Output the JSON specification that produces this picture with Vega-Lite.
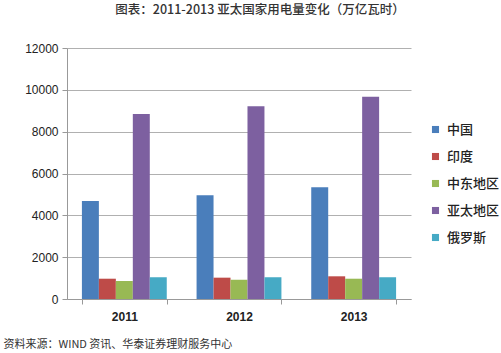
{
  "$schema": "https://vega.github.io/schema/vega-lite/v6.json",
  "autosize": "none",
  "width": 344,
  "height": 251,
  "padding": {"left": 67, "top": 48, "right": 90, "bottom": 54},
  "background": "white",
  "title": {
    "text": "图表：2011-2013 亚太国家用电量变化（万亿瓦时）",
    "font": "Noto Sans CJK SC",
    "fontSize": 12.5,
    "fontWeight": 500,
    "color": "#333333",
    "anchor": "middle",
    "frame": "group",
    "dx": 21,
    "offset": 26
  },
  "data": {
    "values": [
      {"year": "2011", "region": "中国", "value": 4690},
      {"year": "2011", "region": "印度", "value": 970},
      {"year": "2011", "region": "中东地区", "value": 860},
      {"year": "2011", "region": "亚太地区", "value": 8840},
      {"year": "2011", "region": "俄罗斯", "value": 1040},
      {"year": "2012", "region": "中国", "value": 4960},
      {"year": "2012", "region": "印度", "value": 1020},
      {"year": "2012", "region": "中东地区", "value": 920},
      {"year": "2012", "region": "亚太地区", "value": 9220},
      {"year": "2012", "region": "俄罗斯", "value": 1040},
      {"year": "2013", "region": "中国", "value": 5340},
      {"year": "2013", "region": "印度", "value": 1085},
      {"year": "2013", "region": "中东地区", "value": 970},
      {"year": "2013", "region": "亚太地区", "value": 9665},
      {"year": "2013", "region": "俄罗斯", "value": 1040}
    ]
  },
  "mark": {"type": "bar"},
  "encoding": {
    "x": {
      "field": "year",
      "type": "nominal",
      "scale": {"paddingInner": 0.26, "paddingOuter": 0.13},
      "axis": {
        "title": "资料来源：WIND 资讯、华泰证券理财服务中心",
        "titleFont": "Noto Sans CJK SC",
        "titleFontSize": 11,
        "titleFontWeight": "normal",
        "titleColor": "#333333",
        "titleAnchor": "start",
        "titleAlign": "left",
        "titleBaseline": "alphabetic",
        "titleX": -64,
        "titleY": 48,
        "labelAngle": 0,
        "labelFont": "Liberation Sans",
        "labelFontSize": 12,
        "labelFontWeight": "bold",
        "labelColor": "#222222",
        "labelPadding": 7,
        "tickBand": "extent",
        "tickSize": 5,
        "tickColor": "#999999",
        "domainColor": "#999999",
        "grid": false
      }
    },
    "xOffset": {
      "field": "region",
      "type": "nominal",
      "sort": ["中国", "印度", "中东地区", "亚太地区", "俄罗斯"],
      "scale": {"paddingInner": 0, "paddingOuter": 0}
    },
    "y": {
      "field": "value",
      "type": "quantitative",
      "scale": {"domain": [0, 12000]},
      "axis": {
        "title": null,
        "values": [0, 2000, 4000, 6000, 8000, 10000, 12000],
        "format": "d",
        "labelFont": "Liberation Sans",
        "labelFontSize": 12,
        "labelColor": "#222222",
        "labelPadding": 4,
        "tickSize": 5,
        "tickColor": "#999999",
        "domainColor": "#999999",
        "gridColor": "#b0b0b0",
        "gridWidth": 1
      }
    },
    "color": {
      "field": "region",
      "type": "nominal",
      "sort": ["中国", "印度", "中东地区", "亚太地区", "俄罗斯"],
      "scale": {
        "domain": ["中国", "印度", "中东地区", "亚太地区", "俄罗斯"],
        "range": ["#4a7ebb", "#be4b48", "#98b954", "#7d60a0", "#46aac5"]
      },
      "legend": {
        "title": null,
        "orient": "none",
        "legendX": 362,
        "legendY": 75,
        "symbolType": "square",
        "symbolSize": 50,
        "symbolStrokeWidth": 0,
        "labelFont": "Noto Sans CJK SC",
        "labelFontSize": 13,
        "labelFontWeight": 500,
        "labelColor": "#222222",
        "labelOffset": 5,
        "rowPadding": 13
      }
    }
  },
  "config": {
    "view": {"stroke": null}
  }
}
